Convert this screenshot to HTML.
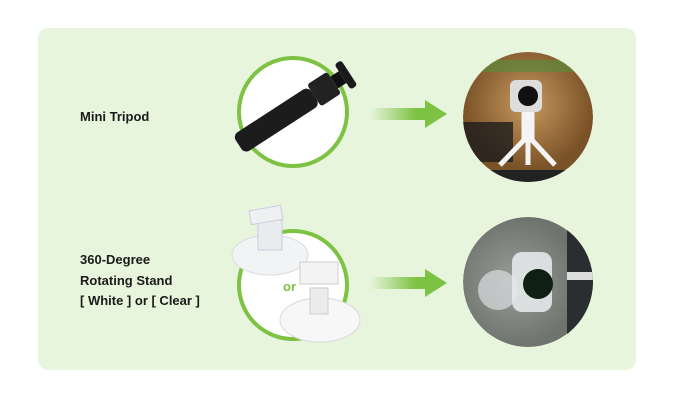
<!DOCTYPE html>
<html><head><style>
body{margin:0;background:#fff;width:680px;height:400px;overflow:hidden;font-family:"Liberation Sans",sans-serif;}
.panel{position:absolute;left:38px;top:28px;width:598px;height:342px;background:#e7f5dd;border-radius:10px;}
.t{position:absolute;font-size:13px;font-weight:bold;color:#1a1a1a;line-height:20.5px;}
</style></head><body>
<div class="panel"></div>
<div class="t" style="left:80px;top:107px">Mini Tripod</div>
<div class="t" style="left:80px;top:250px">360-Degree<br>Rotating Stand<br>[ White ] or [ Clear ]</div>
<svg width="680" height="400" style="position:absolute;left:0;top:0">
<defs>
<linearGradient id="g" x1="0" x2="1"><stop offset="0" stop-color="#7dc242" stop-opacity="0"/><stop offset="0.6" stop-color="#7dc242"/></linearGradient>
<radialGradient id="p1" cx="0.5" cy="0.4"><stop offset="0" stop-color="#c89a5e"/><stop offset="1" stop-color="#7a5228"/></radialGradient>
<radialGradient id="p2" cx="0.4" cy="0.5"><stop offset="0" stop-color="#9a9e98"/><stop offset="1" stop-color="#6f736e"/></radialGradient>
<clipPath id="c1"><circle cx="528" cy="117" r="65"/></clipPath>
<clipPath id="c2"><circle cx="528" cy="282" r="65"/></clipPath>
</defs>
<circle cx="293" cy="112" r="54" fill="#fff" stroke="#7dc242" stroke-width="4"/>
<circle cx="293" cy="285" r="54" fill="#fff" stroke="#7dc242" stroke-width="4"/>
<g transform="rotate(-33 290 110)">
<rect x="228" y="100" width="90" height="22" rx="6" fill="#1c1c1c"/>
<rect x="318" y="98" width="24" height="26" rx="3" fill="#222"/>
<rect x="342" y="104" width="10" height="14" fill="#111"/>
<rect x="352" y="96" width="8" height="30" rx="3" fill="#1a1a1a"/>
</g>
<ellipse cx="270" cy="255" rx="38" ry="20" fill="#f1f3f4" stroke="#d8dcde"/>
<rect x="258" y="220" width="24" height="30" fill="#e8ecee" stroke="#ccd"/>
<rect x="250" y="208" width="32" height="14" fill="#eef0f2" stroke="#ccd" transform="rotate(-10 266 215)"/>
<ellipse cx="320" cy="320" rx="40" ry="22" fill="#f7f7f7" stroke="#d8d8d8"/>
<rect x="310" y="288" width="18" height="26" fill="#ececec" stroke="#ccc"/>
<rect x="300" y="262" width="38" height="22" fill="#f4f4f4" stroke="#ccc"/>
<text x="283" y="291" font-family="Liberation Sans" font-weight="bold" font-size="13" fill="#7dc242">or</text>
<path d="M370 108 H425 V100 L447 114 L425 128 V120 H370 Z" fill="url(#g)"/>
<path d="M370 277 H425 V269 L447 283 L425 297 V289 H370 Z" fill="url(#g)"/>
<g clip-path="url(#c1)">
<circle cx="528" cy="117" r="65" fill="url(#p1)"/>
<rect x="430" y="60" width="200" height="12" fill="#5c8a3a" opacity="0.7"/>
<rect x="463" y="122" width="50" height="40" fill="#1d1d1d" opacity="0.8"/>
<rect x="450" y="170" width="160" height="20" fill="#222"/>
<rect x="510" y="80" width="32" height="32" rx="6" fill="#ddd"/>
<circle cx="528" cy="96" r="10" fill="#111"/>
<path d="M524 112 V140 L500 165 M528 112 V165 M532 112 V140 L555 165" stroke="#f4f4f4" stroke-width="5" fill="none"/>
</g>
<g clip-path="url(#c2)">
<circle cx="528" cy="282" r="65" fill="url(#p2)"/>
<rect x="567" y="210" width="40" height="150" fill="#2a2e30"/>
<rect x="567" y="272" width="40" height="8" fill="#ddd"/>
<circle cx="498" cy="290" r="20" fill="#d8dde0" opacity="0.7"/>
<rect x="512" y="252" width="40" height="60" rx="10" fill="#e4e8ea" opacity="0.9"/>
<circle cx="538" cy="284" r="15" fill="#0f1f14"/>
</g>
</svg>
</body></html>
